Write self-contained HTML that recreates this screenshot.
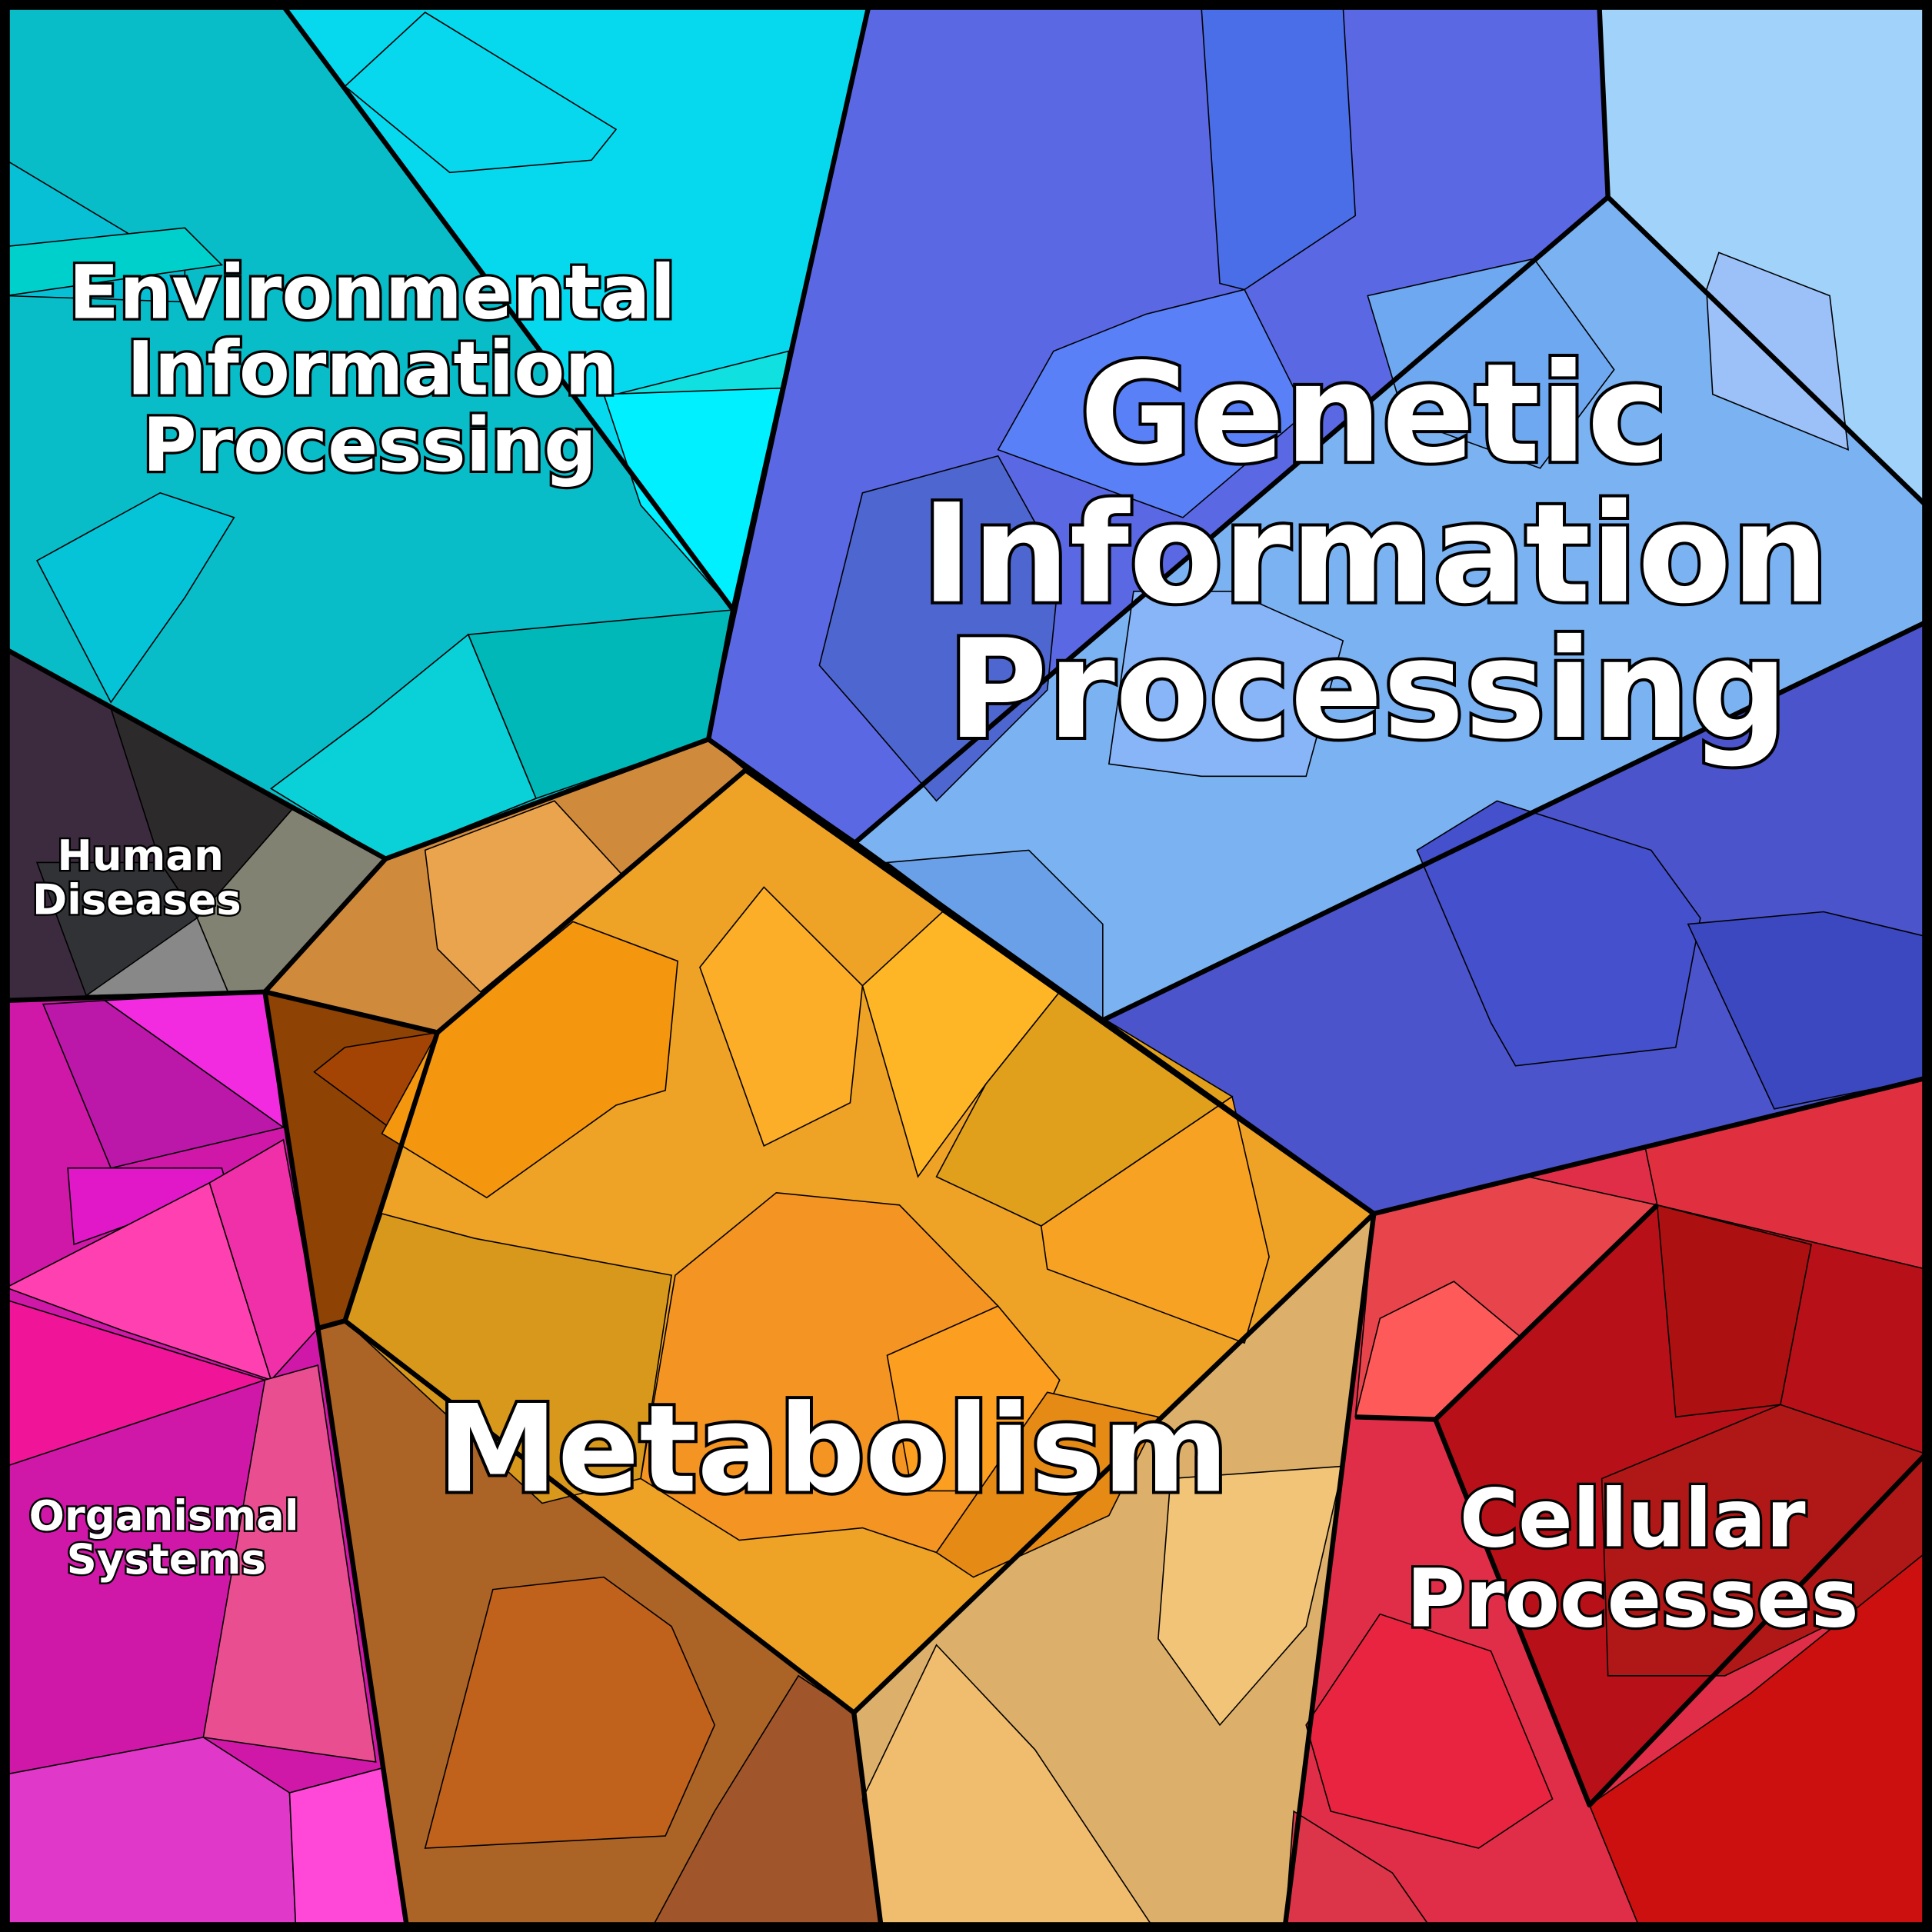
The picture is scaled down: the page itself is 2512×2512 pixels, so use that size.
<!DOCTYPE html>
<html><head><meta charset="utf-8"><style>
html,body{margin:0;padding:0;background:#000}
svg{display:block}
.t{font-family:"DejaVu Sans","Liberation Sans",sans-serif;font-weight:bold;fill:#fff;stroke:#000;paint-order:stroke;text-anchor:middle}
.c{stroke:#000;stroke-width:1}
.b{fill:none;stroke:#000;stroke-width:4;stroke-linejoin:round}
</style></head><body>
<svg width="2512" height="2512" viewBox="0 0 1568 1568" xmlns="http://www.w3.org/2000/svg">
<rect width="1568" height="1568" fill="#000"/>
<!-- Environmental -->
<polygon class="c" fill="#08bcc8" points="5,5 230,5 595,495 575,600 313,697 5,527"/>
<polygon class="c" fill="#06d8ee" points="230,5 705,5 595,495"/>
<polygon class="c" fill="#00b8b8" points="380,515 595,495 575,600 435,648"/>
<polygon class="c" fill="#0ad0d8" points="220,640 300,580 380,515 435,648 313,697"/>
<polygon class="c" fill="#08c0d6" points="5,130 105,190 150,185 150,245 5,240"/>
<polygon class="c" fill="#00d0cc" points="5,200 150,185 180,215 5,240"/>
<polygon class="c" fill="#06c4d8" points="30,455 130,400 190,420 150,485 90,570"/>
<polygon class="c" fill="#10e0e0" points="500,320 640,285 635,315 520,322"/>
<polygon class="c" fill="#00f0ff" points="490,320 635,315 595,495 520,410"/>
<polygon class="c" fill="#08d8ee" points="280,70 345,10 500,105 480,130 365,140"/>
<!-- Genetic -->
<polygon class="c" fill="#5a68e4" points="705,5 1298,5 1305,160 695,683 575,600"/>
<polygon class="c" fill="#a0d2fa" points="1298,5 1563,5 1563,410 1305,160"/>
<polygon class="c" fill="#7ab2f2" points="1305,160 1563,410 1563,505 895,828 695,683"/>
<polygon class="c" fill="#4c54cc" points="895,828 1563,505 1563,875 1115,985"/>
<polygon class="c" fill="#4a6ee8" points="975,5 1090,5 1100,175 1010,235 990,230"/>
<polygon class="c" fill="#5a80f8" points="810,365 855,285 930,255 1010,235 1060,335 960,420"/>
<polygon class="c" fill="#4e66d0" points="700,400 810,370 860,460 850,560 760,650 700,580 665,540"/>
<polygon class="c" fill="#88b4f8" points="920,480 1000,480 1090,520 1060,630 975,630 900,620"/>
<polygon class="c" fill="#6ea8f0" points="1110,240 1245,210 1310,300 1250,380 1140,340"/>
<polygon class="c" fill="#9cc0f8" points="1395,205 1485,240 1500,365 1390,320 1385,235"/>
<polygon class="c" fill="#4450cc" points="1150,690 1215,650 1340,690 1380,745 1360,850 1230,865 1210,830"/>
<polygon class="c" fill="#3c48c0" points="1370,750 1480,740 1563,760 1563,875 1440,900"/>
<polygon class="c" fill="#6aa0e8" points="720,700 835,690 895,750 895,828 840,790"/>
<!-- Human diseases -->
<polygon class="c" fill="#3c2a3e" points="5,527 313,697 215,805 5,812"/>
<polygon class="c" fill="#2c2a2a" points="90,575 237,657 160,745 130,700"/>
<polygon class="c" fill="#828272" points="237,657 313,697 215,805 185,805 160,745"/>
<polygon class="c" fill="#888888" points="70,808 120,770 160,745 185,805"/>
<polygon class="c" fill="#303236" points="30,700 130,700 160,745 70,808"/>
<!-- Organismal -->
<polygon class="c" fill="#d018a8" points="5,812 215,805 258,1078 330,1563 5,1563"/>
<polygon class="c" fill="#f22ae0" points="85,812 215,805 230,915"/>
<polygon class="c" fill="#bb18aa" points="35,815 85,812 230,915 90,948"/>
<polygon class="c" fill="#e018c8" points="55,948 180,948 185,965 60,1010"/>
<polygon class="c" fill="#ff40b0" points="5,1045 170,960 220,1120 100,1080"/>
<polygon class="c" fill="#f030a8" points="170,960 230,925 258,1078 220,1120"/>
<polygon class="c" fill="#f01498" points="5,1055 215,1120 5,1190"/>
<polygon class="c" fill="#e84e90" points="215,1120 258,1108 305,1430 165,1410"/>
<polygon class="c" fill="#e038c8" points="5,1440 165,1410 235,1455 240,1563 5,1563"/>
<polygon class="c" fill="#ff48d8" points="235,1455 310,1435 330,1563 240,1563"/>
<!-- Metabolism -->
<polygon class="c" fill="#d08a3c" points="313,697 575,600 605,625 355,838 215,805"/>
<polygon class="c" fill="#eaa44e" points="345,690 450,650 505,710 390,805 355,770"/>
<polygon class="c" fill="#8e4204" points="215,805 355,838 280,1072 258,1078"/>
<polygon class="c" fill="#a44404" points="280,850 355,838 320,918 255,870"/>
<polygon class="c" fill="#ac6426" points="258,1078 280,1072 693,1390 715,1563 330,1563"/>
<polygon class="c" fill="#c0621c" points="400,1290 490,1280 545,1320 580,1400 540,1490 345,1500"/>
<polygon class="c" fill="#a0562a" points="580,1470 648,1360 693,1390 715,1563 530,1563"/>
<polygon class="c" fill="#dcb06a" points="693,1390 1115,985 1043,1563 715,1563"/>
<polygon class="c" fill="#f0bc6e" points="700,1460 760,1335 840,1420 935,1563 715,1563"/>
<polygon class="c" fill="#f2c478" points="950,1200 1090,1190 1060,1320 990,1400 940,1330"/>
<polygon class="c" fill="#eea226" points="355,838 605,625 1115,985 693,1390 280,1072"/>
<polygon class="c" fill="#f4960e" points="355,838 465,748 550,780 540,885 500,897 395,972 310,920"/>
<polygon class="c" fill="#fcae28" points="568,785 620,720 700,800 690,895 620,930"/>
<polygon class="c" fill="#feb626" points="700,800 765,740 860,805 800,880 745,955"/>
<polygon class="c" fill="#e0a01c" points="800,880 860,805 1000,890 845,995 760,955"/>
<polygon class="c" fill="#f49422" points="548,1035 630,968 730,978 810,1060 850,1130 760,1260 700,1240 600,1250 520,1200"/>
<polygon class="c" fill="#f8a224" points="845,995 1000,890 1030,1020 1010,1090 850,1030"/>
<polygon class="c" fill="#fc9e20" points="720,1100 810,1060 860,1120 820,1210 740,1210"/>
<polygon class="c" fill="#d8981c" points="280,1072 310,985 385,1005 545,1035 520,1200 440,1220"/>
<polygon class="c" fill="#e68a16" points="760,1260 850,1130 940,1150 900,1230 790,1280"/>
<!-- Cellular -->
<polygon class="c" fill="#e02e48" points="1115,985 1563,875 1563,1563 1043,1563"/>
<polygon class="c" fill="#e8444c" points="1115,985 1240,955 1345,978 1165,1152 1100,1150"/>
<polygon class="c" fill="#ff5a5a" points="1120,1070 1180,1040 1240,1090 1165,1152 1100,1150"/>
<polygon class="c" fill="#e03040" points="1335,930 1563,875 1563,1030 1345,978"/>
<polygon class="c" fill="#b81018" points="1165,1152 1345,978 1563,1030 1563,1180 1290,1465"/>
<polygon class="c" fill="#ac1010" points="1345,978 1470,1010 1445,1140 1360,1150"/>
<polygon class="c" fill="#b01818" points="1300,1200 1445,1140 1563,1180 1563,1280 1400,1360 1305,1360"/>
<polygon class="c" fill="#cc1010" points="1290,1465 1420,1375 1563,1260 1563,1563 1330,1563"/>
<polygon class="c" fill="#e82440" points="1060,1400 1120,1310 1210,1340 1260,1460 1200,1500 1080,1470"/>
<polygon class="c" fill="#dc3448" points="1043,1563 1050,1470 1130,1520 1160,1563"/>
<!-- major borders -->
<polyline class="b" points="705,5 595,495 575,600 313,697 5,527"/>
<polyline class="b" points="230,5 595,495"/>
<polyline class="b" points="575,600 1115,985 1563,875"/>
<polyline class="b" points="1298,5 1305,160 1563,410"/>
<polyline class="b" points="1305,160 695,683"/>
<polyline class="b" points="895,828 1563,505"/>
<polyline class="b" points="313,697 215,805 5,812"/>
<polyline class="b" points="215,805 258,1078 330,1563"/>
<polyline class="b" points="1115,985 1043,1563"/>
<polyline class="b" points="1100,1150 1165,1152 1345,978"/>
<polyline class="b" points="1165,1152 1290,1465 1563,1180"/>
<polygon class="b" points="355,838 605,625 1115,985 693,1390 280,1072"/>
<polyline class="b" points="693,1390 715,1563"/>
<polyline class="b" points="215,805 355,838"/>
<polyline class="b" points="258,1078 280,1072"/>
<rect x="4" y="4" width="1560" height="1560" fill="none" stroke="#000" stroke-width="8"/>
<!-- labels -->
<g class="t" style="font-size:60px;stroke-width:4px">
<text x="302" y="258">Environmental</text>
<text x="302" y="320">Information</text>
<text x="300" y="382">Processing</text>
</g>
<g class="t" style="font-size:111px;stroke-width:5px">
<text x="1115" y="374">Genetic</text>
<text x="1116" y="488">Information</text>
<text x="1110" y="598">Processing</text>
</g>
<text class="t" x="676" y="1210" style="font-size:98px;stroke-width:5px">Metabolism</text>
<g class="t" style="font-size:65px;stroke-width:4px">
<text x="1325" y="1255">Cellular</text>
<text x="1325" y="1320">Processes</text>
</g>
<g class="t" style="font-size:34px;stroke-width:3px">
<text x="114" y="706">Human</text>
<text x="111" y="742">Diseases</text>
<text x="133" y="1242">Organismal</text>
<text x="135" y="1277">Systems</text>
</g>
</svg>
</body></html>
